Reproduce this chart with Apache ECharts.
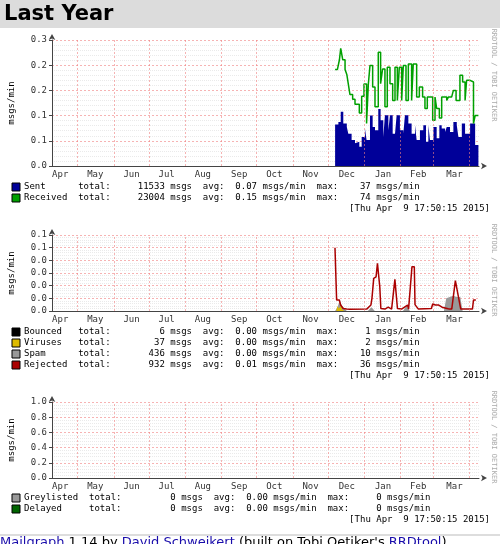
<!DOCTYPE html>
<html><head><meta charset="utf-8">
<script src="https://cdn.jsdelivr.net/npm/echarts@6/dist/echarts.min.js"></script>
<style>html,body{margin:0;padding:0;background:#fff}#c{width:500px;height:544px}</style>
</head><body><div id="c"></div>
<script>
// x = days since Apr 9 2014
const monthNames = ['Apr','May','Jun','Jul','Aug','Sep','Oct','Nov','Dec','Jan','Feb','Mar'];
const monthLabelDays = [7,37,68,98,129,160,190,221,252,283,313,344];
const monthStartDays = [22,53,83,114,145,175,206,236,267,298,326,357];

const sentDays = [242,244.8,246.8,249,252,253.3,256.1,259,260.4,262.7,264.7,267.5,268.9,271.8,274.1,276.1,278.9,280.9,283.2,284.6,287.5,288.9,291.2,293.2,294.6,297.4,300.3,301.7,304.6,307.4,310.3,311.7,314.5,317.4,319.7,321.7,323.1,326,328.8,331.1,333.1,336,337.4,340.2,343.1,346,347.4,350.3,353.1,357.4,361.7,364.5];
const sentVals = [.099,.105,.129,.101,.093,.077,.062,.054,.058,.046,.069,.089,.062,.120,.093,.085,.136,.109,.069,.121,.085,.121,.077,.077,.121,.085,.077,.121,.101,.077,.097,.062,.085,.097,.058,.097,.062,.093,.066,.097,.089,.081,.093,.081,.105,.097,.069,.101,.077,.101,.050,.058];

const recvDays = [242,244,245.7,246.8,248.5,250.5,252,253.3,254.7,257,259,260.4,262.7,264.7,266.7,268.9,270.4,271.8,274.1,276.1,278.9,280.9,282.6,284.6,286.6,288.9,291.2,293.2,295.2,296.9,298.9,300.3,302.6,304.6,307.4,308.8,311.7,314,316.8,318.8,320.8,323.1,325.4,327.4,328.8,331.1,333.1,334.5,337.4,338.8,341.6,343.1,345.4,348.7,351,353.1,354.4,357.4,360.3,361.7,364.5];
const recvVals = [.230,.230,.253,.280,.253,.230,.218,.195,.170,.159,.147,.147,.126,.166,.195,.101,.195,.239,.188,.141,.271,.196,.231,.141,.235,.196,.156,.235,.156,.235,.156,.239,.156,.243,.156,.243,.164,.188,.164,.137,.164,.164,.109,.164,.137,.114,.164,.164,.156,.164,.164,.180,.156,.216,.200,.156,.204,.200,.101,.120,.120];

const rejDays = [241.9,243.3,245.6,246.7,248.9,251.8,254.7,269,272.6,273.5,275,277,278.2,279.4,280.2,281.1,284.6,287.4,290.3,293.1,293.9,295.3,296.2,298.8,303.9,304.8,305.7,307.7,309.7,310.3,312,313.2,314.3,324.3,325.4,327.7,330.6,333.4,334.9,337.7,339.7,341.7,343.1,344.8,346.2,349.4,359.4,360.3,362.3];
const rejVals = [.050,.0087,.0087,.0047,.002,.0015,.0013,.0015,.0047,.010,.0258,.027,.0377,.0377,.019,.002,.0015,.003,.0015,.025,.025,.002,.0015,.0015,.0047,.0015,.0015,.035,.035,.005,.0035,.0015,.0015,.002,.0055,.0047,.0047,.003,.003,.002,.0015,.0015,.002,.024,.024,.0015,.0015,.0087,.0087];

const spamDays = [242,244,246,248,250,252,270,273,276,300,303,306,335,337,340,343,346,349,351];
const spamVals = [0,.003,.008,.004,.002,0,0,.003,0,0,.004,0,0,.010,.011,.012,.011,.011,0];
const virusDays = [243,244,245,247,248,250];
const virusVals = [0,.004,.002,.004,.001,0];
const bounceDays = [241,242,243];
const bounceVals = [0,.0015,0];

const legend1 = [['Sent','#000099','11533','0.07','37'],['Received','#00a000','23004','0.15','74']];
const legend2 = [['Bounced','#000000','6','0.00','1'],['Viruses','#ddbb00','37','0.00','2'],['Spam','#999999','436','0.00','10'],['Rejected','#aa0000','932','0.01','36']];
const legend3 = [['Greylisted','#999999','0','0.00','0'],['Delayed','#006400','0','0.00','0']];
const stamp = '[Thu Apr  9 17:50:15 2015]';

const pair = (d,v)=>d.map((x,i)=>[x,v[i]]);
const mono = 'DejaVu Sans Mono';
const grids = [{top:40,h:126,max:0.3,int:0.06},{top:235,h:76,max:0.06,int:0.01},{top:402,h:76,max:1.0,int:0.2}];

const chart = echarts.init(document.getElementById('c'));
const xAxes = [], yAxes = [], gridArr = [], series = [];
grids.forEach((g,i)=>{
  gridArr.push({left:52,width:427,top:g.top,height:g.h});
  xAxes.push({type:'value',gridIndex:i,min:0,max:365,
    axisLine:{lineStyle:{color:'#444'},symbol:['none','arrow'],symbolSize:[5,6],symbolOffset:[0,8]},
    axisTick:{show:false},splitLine:{show:false},
    axisLabel:{customValues:monthLabelDays,fontFamily:mono,fontSize:9,color:'#333',margin:4,
      formatter:v=>monthNames[monthLabelDays.indexOf(v)]||''}});
  yAxes.push({type:'value',gridIndex:i,min:0,max:g.max,interval:g.int,
    axisLine:{show:true,lineStyle:{color:'#444'},symbol:['none','arrow'],symbolSize:[5,6],symbolOffset:[0,6]},
    axisTick:{show:true,length:3,lineStyle:{color:'#444'}},
    axisLabel:{fontFamily:mono,fontSize:9,color:'#333',margin:5,formatter:v=>v.toFixed(1)},
    splitLine:{lineStyle:{color:'#f08080',type:[2,2],width:0.6}},
    minorTick:{show:false,splitNumber:5},
    minorSplitLine:{show:true,lineStyle:{color:'#dddddd',type:[1,1],width:0.6}}});
  series.push({type:'line',xAxisIndex:i,yAxisIndex:i,data:[],silent:true,
    markLine:{silent:true,symbol:'none',label:{show:false},lineStyle:{color:'#f08080',type:[2,2],width:0.6},
      data:monthStartDays.map(d=>({xAxis:d}))}});
});
series.push({type:'line',xAxisIndex:0,yAxisIndex:0,data:pair(sentDays,sentVals),step:'end',symbol:'none',
  lineStyle:{width:0},areaStyle:{color:'#000099',opacity:1},z:3});
series.push({type:'line',xAxisIndex:0,yAxisIndex:0,data:pair(recvDays,recvVals),step:'end',symbol:'none',
  lineStyle:{width:1.5,color:'#00a000'},z:4});
series.push({type:'line',xAxisIndex:1,yAxisIndex:1,data:pair(spamDays,spamVals),symbol:'none',
  lineStyle:{width:0},areaStyle:{color:'#999999',opacity:1},z:3});
series.push({type:'line',xAxisIndex:1,yAxisIndex:1,data:pair(virusDays,virusVals),symbol:'none',
  lineStyle:{width:0},areaStyle:{color:'#ddbb00',opacity:1},z:3});
series.push({type:'line',xAxisIndex:1,yAxisIndex:1,data:pair(bounceDays,bounceVals),symbol:'none',
  lineStyle:{width:0},areaStyle:{color:'#000',opacity:1},z:3});
series.push({type:'line',xAxisIndex:1,yAxisIndex:1,data:pair(rejDays,rejVals),symbol:'none',
  lineStyle:{width:1.5,color:'#aa0000'},z:4});

const graphic = [
  {type:'rect',shape:{x:0,y:0,width:500,height:28},style:{fill:'#dcdcdc'}},
  {type:'text',x:4,y:4,style:{text:'Last Year',font:'bold 21px "DejaVu Sans"',fill:'#000'}},
  {type:'line',shape:{x1:0,y1:535,x2:500,y2:535},style:{stroke:'#bbb',lineWidth:1}},
  {type:'text',x:0,y:536,style:{rich:{a:{fill:'#1a0dab',fontSize:13,fontFamily:'DejaVu Sans'},b:{fill:'#000',fontSize:13,fontFamily:'DejaVu Sans'}},
    text:'{a|Mailgraph}{b| 1.14 by }{a|David Schweikert}{b| (built on Tobi Oetiker\'s }{a|RRDtool}{b|)}'}}
];
function addLegend(rows, y0, pad){
  rows.forEach((r,k)=>{
    const y = y0 + k*11;
    graphic.push({type:'rect',shape:{x:12,y:y-4,width:8,height:8},style:{fill:r[1],stroke:'#000',lineWidth:1}});
    const s = r[0].padEnd(pad)+'total:'+r[2].padStart(10)+' msgs  avg:  '+r[3]+' msgs/min  max:'+r[4].padStart(6)+' msgs/min';
    graphic.push({type:'text',x:24,y:y,style:{text:s,font:'9px "DejaVu Sans Mono"',fill:'#000',verticalAlign:'middle'}});
  });
  graphic.push({type:'text',x:490,y:y0+rows.length*11,style:{text:stamp,font:'9px "DejaVu Sans Mono"',fill:'#000',align:'right',verticalAlign:'middle'}});
}
addLegend(legend1,187,10);
addLegend(legend2,332,10);
addLegend(legend3,498,12);
grids.forEach(g=>{
  graphic.push({type:'text',x:12,y:g.top+g.h/2,rotation:Math.PI/2,style:{text:'msgs/min',font:'9px "DejaVu Sans Mono"',fill:'#000',align:'center',verticalAlign:'middle'}});
  graphic.push({type:'text',x:494,y:g.top+35,rotation:-Math.PI/2,style:{text:'RRDTOOL / TOBI OETIKER',font:'7px "DejaVu Sans Mono"',fill:'#aaa',align:'center',verticalAlign:'middle'}});
});

chart.setOption({animation:false,grid:gridArr,xAxis:xAxes,yAxis:yAxes,series:series,graphic:graphic});
</script></body></html>
